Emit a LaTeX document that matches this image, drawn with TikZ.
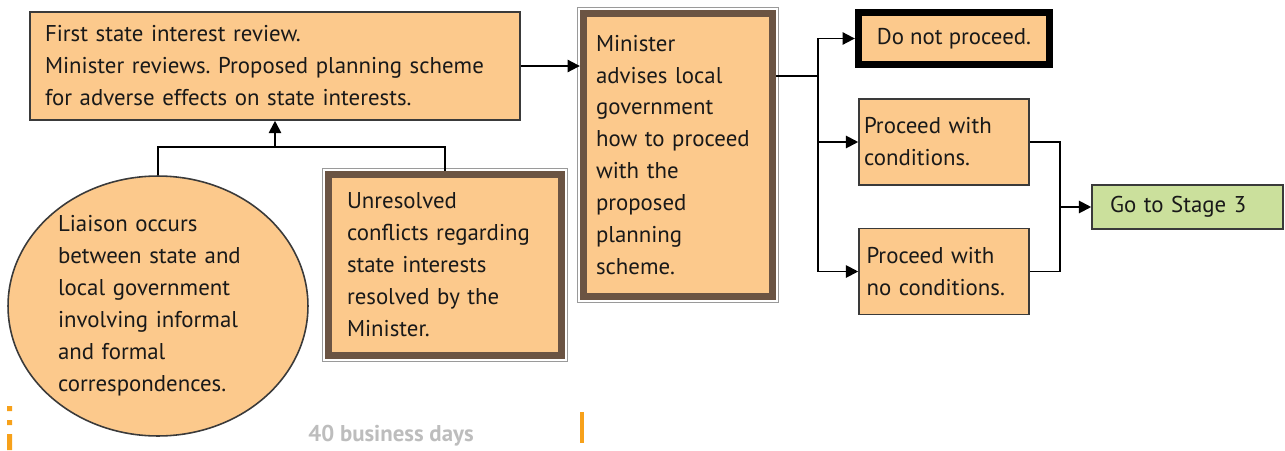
\documentclass[tikz,border=0pt]{standalone}
\usepackage{fontspec}
\setmainfont{PT Sans}
\usepackage{xcolor}
\usetikzlibrary{shapes.geometric}
\usetikzlibrary{arrows.meta}
\frenchspacing

\definecolor{boxfill}{HTML}{FCC98C}
\definecolor{boxedge}{HTML}{3A3A3A}
\definecolor{brownframe}{HTML}{6B5443}
\definecolor{grayframe}{HTML}{9A9A9A}
\definecolor{stagefill}{HTML}{CBE09C}
\definecolor{markorange}{HTML}{F7A11A}
\definecolor{daysgray}{HTML}{BDBDBD}

\tikzset{
  orangebox/.style={rectangle,draw=boxedge,line width=0.9pt,fill=boxfill,align=left,
    text=black!90,font=\fontsize{13}{18.2}\selectfont},
  minbox/.style={orangebox,draw=brownframe,line width=4.2pt},
  stopbox/.style={orangebox,draw=black,line width=4.2pt,align=center},
  outerframe/.style={draw=grayframe,line width=0.8pt},
  link/.style={line width=1.1pt},
  arr/.style={link,-{Triangle[length=7pt,width=7pt]}}
}

\begin{document}
\begin{tikzpicture}[x=0.02cm,y=-0.02cm]
  \useasboundingbox (0,0) rectangle (1285,450);

  % Review and the two inputs below it
  \node[orangebox,minimum height=2.16cm,text width=9.2cm,inner xsep=0.3cm] (review) at (275,66)
    {First state interest review.\\Minister reviews. Proposed planning scheme\\for adverse effects on state interests.};
  \node[orangebox,ellipse,minimum width=6cm,minimum height=5.2cm,inner sep=0pt,text width=4cm] (liaison) at (158,306)
    {Liaison occurs\\between state and\\local government\\involving informal\\and formal\\correspondences.};
  \node[minbox,minimum height=3.62cm,text width=3.92cm,inner xsep=0.37cm] (unres) at (445,265)
    {Unresolved\\conflicts regarding\\state interests\\resolved by the\\Minister.};

  % Minister advice
  \node[minbox,minimum height=5.66cm,text width=3.28cm,inner xsep=0.25cm] (advise) at (678,155)
    {Minister\\advises local\\government\\how to proceed\\with the\\proposed\\planning\\scheme.};

  % Outcomes
  \node[stopbox,minimum width=3.82cm,minimum height=1.04cm] (stop) at (954,38.5) {Do not proceed.};
  \node[orangebox,minimum height=1.72cm,text width=3.2cm,inner xsep=0.1cm] (cond) at (944,142)
    {Proceed with\\conditions.};
  \node[orangebox,minimum height=1.72cm,text width=3.1cm,inner xsep=0.15cm] (nocond) at (944,271.5)
    {Proceed with\\no conditions.};
  \node[orangebox,fill=stagefill,minimum height=0.88cm,text width=3.1cm,inner xsep=0.36cm] (stage) at (1187.5,207)
    {Go to Stage 3};

  \foreach \n in {unres,advise}
    \draw[outerframe] ([shift={(-0.05cm,0.05cm)}]\n.north west) rectangle ([shift={(0.05cm,-0.05cm)}]\n.south east);

  % Connectors
  \coordinate (merge) at (275,147);
  \coordinate (split) at (818,76);
  \coordinate (join) at (1060,207);
  \draw[link] (liaison.north) |- (merge) -| (unres.north);
  \draw[arr] (merge) -- (review.south);
  \draw[arr] (review.east) -- (review.east -| advise.west);
  \draw[link] (advise.east |- split) -- (split);
  \foreach \t in {stop,cond,nocond}
    \draw[arr] (split) |- (\t.west);
  \draw[link] (cond.east) -| (join) |- (nocond.east);
  \draw[arr] (join) -- (stage.west);

  % Time line
  \fill[markorange] (7,406) rectangle (12,411) (7,420) rectangle (12,425) (7,434) rectangle (12,450);
  \fill[markorange] (580,412) rectangle (584,443);
  \node[font=\bfseries\fontsize{13}{15}\selectfont,text=daysgray] (days) at (391,436) {40 business days};
\end{tikzpicture}
\end{document}
